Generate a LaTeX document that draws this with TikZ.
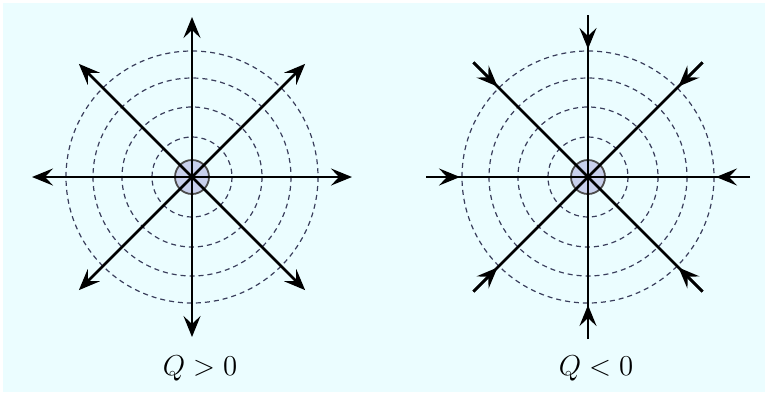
\documentclass[tikz,border=0pt]{standalone}
\usetikzlibrary{arrows.meta, calc}
\definecolor{bgCyan}{RGB}{235,253,255}
\definecolor{eqBlue}{RGB}{58,62,92}
\definecolor{chargeFill}{RGB}{200,208,236}

\begin{document}
\begin{tikzpicture}[
    x=0.5pt, y=-0.5pt,
    font=\Large,
    charge/.style={circle, draw=black!70, line width=0.9pt, fill=chargeFill,
                   minimum size=17pt, inner sep=0pt},
    eq/.style={eqBlue, line width=0.6pt, dash pattern=on 2.5pt off 2pt},
    ray/.style={line width=1.4pt, black},
    tip/.style={-{Stealth[length=10.5pt, width=8.5pt, inset=4pt]}, line width=1.4pt, black},
  ]
    \useasboundingbox (0,0) rectangle (765,392);
    \fill[bgCyan] (3,3) rectangle (765,392);
    % charges
    \node[charge] (qp) at (192,177) {};
    \node[charge] (qn) at (588,177) {};
    % equipotentials
    \foreach \rad in {40,70,99,126} {
      \draw[eq] (qp.center) circle (\rad);
      \draw[eq] (qn.center) circle (\rad);
    }
    % field lines, Q > 0
    \foreach \a in {0,45,...,315} {
      \coordinate (p\a) at ($(qp.center)+(\a:160)$);
      \draw[tip] (qp.center) -- (p\a);
    }
    % field lines, Q < 0
    \foreach \a in {0,45,...,315} {
      \coordinate (n\a) at ($(qn.center)+(\a:162)$);
      \coordinate (m\a) at ($(qn.center)+(\a:128)$);
      \draw[ray] (qn.center) -- (n\a);
      \draw[tip] (n\a) -- (m\a);
    }
    \node (lp) at (200,368) {$Q>0$};
    \node (ln) at (596,368) {$Q<0$};
  \end{tikzpicture}
\end{document}
